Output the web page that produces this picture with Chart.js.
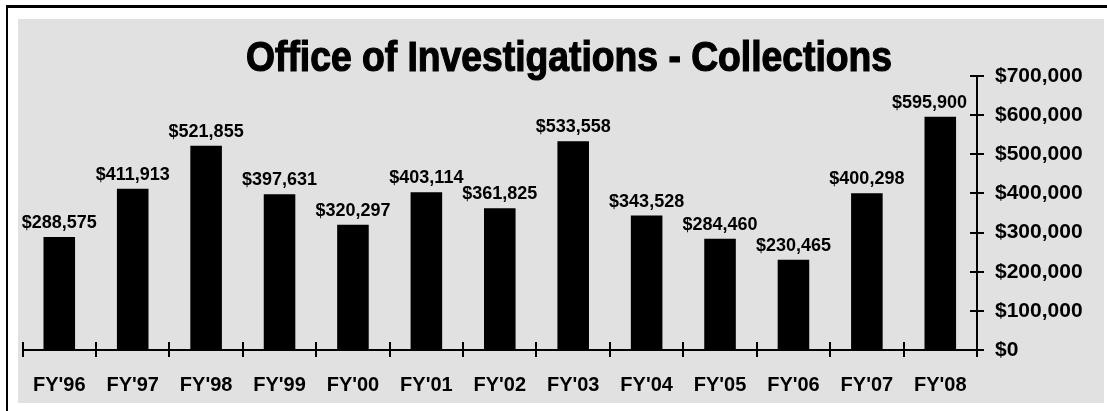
<!DOCTYPE html>
<html>
<head>
<meta charset="utf-8">
<script src="https://cdn.jsdelivr.net/npm/chart.js@4/dist/chart.umd.min.js"></script>
<style>
  body { margin: 0; background: #fff; width: 1107px; height: 411px; overflow: hidden; position: relative; }
  #frame { position: absolute; left: 6px; top: 5px; width: 1110px; height: 420px; border-left: 2px solid #000; border-top: 3px solid #000; }
  #chart { position: absolute; left: 18px; top: 19px; background: #e1e1e1; }
</style>
</head>
<body>
<div id="frame"></div>
<canvas id="chart" width="1086" height="384"></canvas>
<script>
var title = 'Office of Investigations - Collections';
var years = ["FY'96", "FY'97", "FY'98", "FY'99", "FY'00", "FY'01", "FY'02", "FY'03", "FY'04", "FY'05", "FY'06", "FY'07", "FY'08"];
var collections = [288575, 411913, 521855, 397631, 320297, 403114, 361825, 533558, 343528, 284460, 230465, 400298, 595900];
var yTicks = [0, 100000, 200000, 300000, 400000, 500000, 600000, 700000];

function money(v) {
  return '$' + v.toLocaleString('en-US');
}

// condensed heading, squeezed sideways since there is no narrow font here
var narrowTitle = {
  id: 'narrowTitle',
  afterDraw: function(chart) {
    var ctx = chart.ctx;
    ctx.save();
    ctx.fillStyle = '#000';
    ctx.strokeStyle = '#000';
    ctx.lineWidth = 1.2;
    ctx.font = 'bold 42px "Liberation Sans", Arial, sans-serif';
    ctx.textBaseline = 'alphabetic';
    var w = ctx.measureText(title).width;
    var sx = 646 / w;
    ctx.translate(228, 52);
    ctx.scale(sx, 1);
    ctx.fillText(title, 0, 0);
    ctx.strokeText(title, 0, 0);
    ctx.restore();
  }
};

// axis lines with ticks crossing them
var axisMarks = {
  id: 'axisMarks',
  afterDraw: function(chart) {
    var ctx = chart.ctx;
    var a = chart.chartArea;
    var xs = chart.scales.x;
    var ys = chart.scales.y;
    ctx.save();
    ctx.strokeStyle = '#000';
    ctx.lineWidth = 2;
    ctx.beginPath();
    ctx.moveTo(a.left, a.bottom);
    ctx.lineTo(a.right, a.bottom);
    ctx.moveTo(a.right, ys.getPixelForValue(yTicks[yTicks.length - 1]));
    ctx.lineTo(a.right, a.bottom);
    var step = (xs.right - xs.left) / years.length;
    for (var i = 0; i <= years.length; i++) {
      var x = Math.round(xs.left + i * step);
      ctx.moveTo(x, a.bottom - 8);
      ctx.lineTo(x, a.bottom + 7);
    }
    for (var j = 0; j < yTicks.length; j++) {
      var y = Math.round(ys.getPixelForValue(yTicks[j]));
      ctx.moveTo(a.right - 7, y);
      ctx.lineTo(a.right + 7, y);
    }
    ctx.stroke();
    ctx.restore();
  }
};

var valueLabels = {
  id: 'valueLabels',
  afterDatasetsDraw: function(chart) {
    var ctx = chart.ctx;
    var a = chart.chartArea;
    var meta = chart.getDatasetMeta(0);
    ctx.save();
    ctx.fillStyle = '#000';
    ctx.font = 'bold 18px "Liberation Sans", Arial, sans-serif';
    ctx.textAlign = 'center';
    ctx.textBaseline = 'alphabetic';
    meta.data.forEach(function(bar, i) {
      var txt = money(collections[i]);
      var half = ctx.measureText(txt).width / 2;
      var x = Math.min(bar.x, a.right - 10 - half);
      ctx.fillText(txt, x, bar.y - 9);
    });
    ctx.restore();
  }
};

new Chart(document.getElementById('chart'), {
  type: 'bar',
  data: {
    labels: years,
    datasets: [{
      data: collections,
      backgroundColor: '#000',
      categoryPercentage: 1,
      barPercentage: 0.43
    }]
  },
  options: {
    responsive: false,
    animation: false,
    devicePixelRatio: 1,
    layout: { padding: { top: 57, left: 0, right: 0, bottom: 0 } },
    plugins: {
      legend: { display: false },
      tooltip: { enabled: false },
      title: { display: false }
    },
    scales: {
      x: {
        grid: { display: false },
        border: { display: false },
        ticks: {
          color: '#000',
          padding: 15,
          font: { family: '"Liberation Sans", Arial, sans-serif', size: 20, weight: 'bold' }
        },
        afterFit: function(s) { s.height = 53; }
      },
      y: {
        position: 'right',
        min: 0,
        max: 700000,
        grid: { display: false },
        border: { display: false },
        afterBuildTicks: function(s) {
          s.ticks = yTicks.map(function(v) { return { value: v }; });
        },
        ticks: {
          color: '#000',
          padding: 10,
          font: { family: '"Liberation Sans", Arial, sans-serif', size: 21, weight: 'bold' },
          callback: function(v) { return money(v); }
        },
        afterFit: function(s) { s.width = 127; }
      }
    }
  },
  plugins: [axisMarks, valueLabels, narrowTitle]
});
</script>
</body>
</html>
